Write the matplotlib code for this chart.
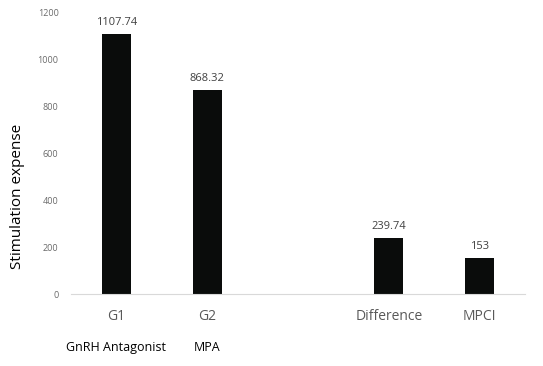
import numpy as np
import matplotlib
matplotlib.use('Agg')
import matplotlib.pyplot as plt

plt.rcParams['font.family'] = ['Open Sans', 'DejaVu Sans']

# Chart data
categories = ['G1', 'G2', '', 'Difference', 'MPCI']
values = [1107.74, 868.32, np.nan, 239.74, 153]
value_labels = ['1107.74', '868.32', '', '239.74', '153']
sub_labels = {0: 'GnRH Antagonist', 1: 'MPA'}
y_ticks = [0, 200, 400, 600, 800, 1000, 1200]

fig = plt.figure(figsize=(5.43, 3.66), dpi=100)
ax = fig.add_axes([0.1308, 0.1967, 0.8361, 0.7705])

x = np.arange(len(categories))
heights = [0 if np.isnan(v) else v for v in values]
ax.bar(x, heights, width=0.32, color='#0a0c0b')

for i, (h, lab) in enumerate(zip(heights, value_labels)):
    if lab:
        ax.text(i, h + 25, lab, ha='center', va='bottom', fontsize=8, color='#404040')

ax.set_xlim(-0.5, len(categories) - 0.5)
ax.set_ylim(0, 1200)
ax.set_yticks(y_ticks)
ax.set_yticklabels([str(t) for t in y_ticks], fontsize=6.5, color='#6a6a6a')
ax.set_xticks(x)
ax.set_xticklabels(categories, fontsize=10, color='#595959')
ax.tick_params(axis='both', length=0)
ax.tick_params(axis='x', pad=11)
ax.tick_params(axis='y', pad=9)

for side in ['top', 'right', 'left']:
    ax.spines[side].set_visible(False)
ax.spines['bottom'].set_color('#d9d9d9')
ax.spines['bottom'].set_linewidth(0.8)

# second row of category labels
for i, txt in sub_labels.items():
    ax.text(i, -0.19, txt, transform=ax.get_xaxis_transform(), ha='center',
            va='center', fontsize=9, color='#000000')

fig.text(0.033, 0.464, 'Stimulation expense', rotation=90, ha='center', va='center',
         fontsize=11, color='#000000')

fig.savefig('out.png', dpi=100)
